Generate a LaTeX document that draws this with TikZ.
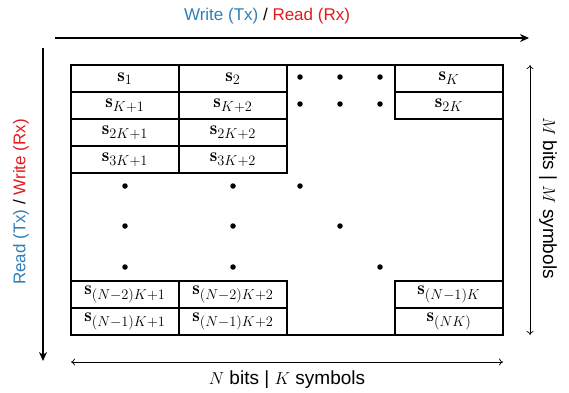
\documentclass[tikz,border=0pt]{standalone}
\usepackage{fontspec}
\setsansfont{Liberation Sans}
\usetikzlibrary{arrows.meta}
\DeclareMathSizes{19}{19}{15}{11}
\definecolor{cblue}{RGB}{44,127,184}
\definecolor{cred}{RGB}{227,26,28}
\tikzset{
  cell/.style={draw, line width=1.3pt, minimum width=108pt, minimum height=27pt, inner sep=0pt, font=\fontsize{19}{21}\selectfont},
  dot/.style={circle, fill, inner sep=0pt, minimum size=5.5pt},
  lbl/.style={font=\sffamily\fontsize{17}{20}\selectfont},
  dimlbl/.style={font=\sffamily\fontsize{19}{22}\selectfont},
  bigarrow/.style={line width=1.6pt, -{Stealth[length=9pt,width=8pt]}},
  dimarrow/.style={line width=0.7pt, {To[length=4pt,width=7pt]}-{To[length=4pt,width=7pt]}},
}
\begin{document}
\begin{tikzpicture}[x=1pt,y=-1pt]
\useasboundingbox (0,0) rectangle (569,392);
% cells
\node[cell] (c11) at (125,78.5) {$\mathbf{s}_{1}$};
\node[cell] (c12) at (233,78.5) {$\mathbf{s}_{2}$};
\node[cell] (c14) at (449,78.5) {$\mathbf{s}_{K}$};
\node[cell] (c21) at (125,105.5) {$\mathbf{s}_{K+1}$};
\node[cell] (c22) at (233,105.5) {$\mathbf{s}_{K+2}$};
\node[cell] (c24) at (449,105.5) {$\mathbf{s}_{2K}$};
\node[cell] (c31) at (125,132.5) {$\mathbf{s}_{2K+1}$};
\node[cell] (c32) at (233,132.5) {$\mathbf{s}_{2K+2}$};
\node[cell] (c41) at (125,159.5) {$\mathbf{s}_{3K+1}$};
\node[cell] (c42) at (233,159.5) {$\mathbf{s}_{3K+2}$};
\node[cell] (b11) at (125,294.5) {$\mathbf{s}_{(N-2)K+1}$};
\node[cell] (b12) at (233,294.5) {$\mathbf{s}_{(N-2)K+2}$};
\node[cell] (b14) at (449,294.5) {$\mathbf{s}_{(N-1)K}$};
\node[cell] (b21) at (125,321.5) {$\mathbf{s}_{(N-1)K+1}$};
\node[cell] (b22) at (233,321.5) {$\mathbf{s}_{(N-1)K+2}$};
\node[cell] (b24) at (449,321.5) {$\mathbf{s}_{(NK)}$};
% outer frame
\node[draw, line width=2pt, minimum width=432pt, minimum height=270pt, inner sep=0pt] (frame) at (287,200) {};
% dots
\foreach \x/\n in {300/a,340/b,380/c}{
  \node[dot] (d1\n) at (\x,77) {};
  \node[dot] (d2\n) at (\x,104) {};
}
\node[dot] (e1) at (125,186) {};
\node[dot] (e2) at (233,186) {};
\node[dot] (e3) at (300,186) {};
\node[dot] (f1) at (125,226) {};
\node[dot] (f2) at (233,226) {};
\node[dot] (f3) at (340,226) {};
\node[dot] (g1) at (125,267) {};
\node[dot] (g2) at (233,267) {};
\node[dot] (g3) at (380,267) {};
% arrows
\coordinate (ts) at (55,38);
\coordinate (te) at (529,38);
\draw[bigarrow] (ts) -- (te);
\node[lbl] (tl) at (267,16) {\textcolor{cblue}{Write (Tx)} / \textcolor{cred}{Read (Rx)}};
\coordinate (ls) at (43,48);
\coordinate (le) at (43,361);
\draw[bigarrow] (ls) -- (le);
\node[lbl, rotate=90] (ll) at (21,202) {\textcolor{cblue}{Read (Tx)} / \textcolor{cred}{Write (Rx)}};
\coordinate (rs) at (530,65);
\coordinate (re) at (530,335);
\draw[dimarrow] (rs) -- (re);
\node[dimlbl, rotate=-90] (rl) at (548,198) {$M$ bits | $M$ symbols};
\coordinate (bs) at (71,362);
\coordinate (be) at (503,362);
\draw[dimarrow] (bs) -- (be);
\node[dimlbl] (bl) at (287,380) {$N$ bits | $K$ symbols};
\end{tikzpicture}
\end{document}
